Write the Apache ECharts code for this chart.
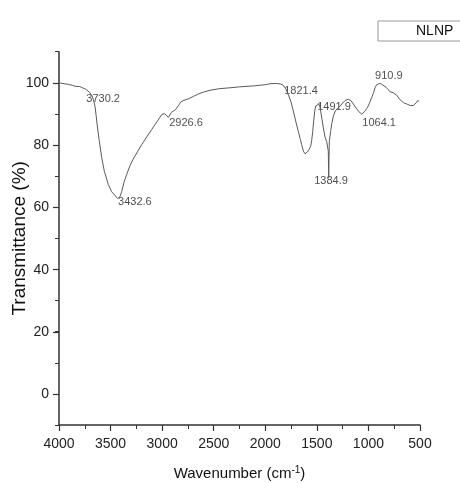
<!DOCTYPE html>
<html>
<head>
<meta charset="utf-8">
<script src="https://cdn.jsdelivr.net/npm/echarts@6/dist/echarts.min.js"></script>
<style>
html,body{margin:0;padding:0;background:#fff;}
#chart{width:460px;height:483px;}
</style>
</head>
<body>
<div id="chart"></div>
<script>
// ---- data ----
const wavenumbers = [4000,3950,3910,3870,3845,3800,3780,3750,3730,3700,3680,3667,3651,3640,3630,3610,3586,3560,3522,3490,3457,3432,3410,3392,3370,3344,3310,3280,3240,3198,3150,3101,3050,3004,2980,2960,2940,2926,2910,2892,2870,2843,2820,2795,2750,2698,2650,2600,2536,2450,2342,2250,2116,2000,1954,1889,1850,1825,1800,1777,1750,1728,1700,1680,1660,1647,1630,1615,1600,1590,1575,1560,1550,1540,1530,1520,1510,1495,1480,1470,1463,1450,1437,1420,1405,1395,1389,1385,1382,1379,1366,1355,1340,1320,1300,1276,1250,1227,1195,1170,1162,1130,1098,1080,1065,1050,1033,1015,1001,985,969,950,936,920,910,890,870,856,830,807,790,775,760,742,725,710,695,678,660,645,629,610,595,580,565,548,535,522,515,510,505];
const transmittance = [100,99.7,99.5,99.2,98.9,98.8,98.5,98.1,97.7,96.8,95.8,94.6,92.5,89.5,86.5,81.5,76,71.5,67.3,65,63.8,62.8,63.3,65,68,70.5,73.5,75.5,77.8,80.1,82.6,85,87.5,89.8,90.1,89.6,88.9,88.7,90.5,91,91.4,92.6,93.8,94.3,94.8,95.6,96.4,97,97.6,98.1,98.4,98.7,99,99.4,99.7,99.8,99.6,99.2,98,96.2,93.8,90.9,87,84.4,81.8,80.1,78,77.2,77.3,77.8,78.6,79.6,81.5,84.4,88,91,92.6,93.1,93.2,92.2,90.9,88.2,85.5,82.5,81.2,80.7,78,69.5,76,81.2,84.4,87,89.3,91,91.8,92.5,93.5,94.3,94.7,94.3,93.8,92.4,90.9,90.3,89.9,90.2,90.9,91.8,92.6,93.9,95.2,96.8,98.4,99.4,99.8,99.8,99.5,99.2,98.6,97.8,97.1,96.8,96.8,96.7,96,95.4,94.6,94.1,93.6,93.2,93.2,92.9,92.7,92.6,92.7,93.2,93.6,94.3,94.5,94.1,94.2];
const peakWavenumbers = [3730.2, 3432.6, 2926.6, 1821.4, 1491.9, 1384.9, 1064.1, 910.9];
const peakTransmittance = [97.7, 62.8, 88.7, 99.3, 93.0, 69.5, 89.9, 99.8];
const peakLabels = ['3730.2','3432.6','2926.6','1821.4','1491.9','1384.9','1064.1','910.9'];
const xTicks = [4000,3500,3000,2500,2000,1500,1000,500];
const yTicks = [0,20,40,60,80,100];
const seriesName = 'NLNP';

// ---- layout / style for annotations (pixel offsets of labels) ----
const labelOffsets = [[0,10],[1,4],[0,6],[1,6],[0,3],[-14,4],[1,9],[-2,-7]];

const sans = "'Liberation Sans',Arial,sans-serif";

const chart = echarts.init(document.getElementById('chart'), null, {renderer:'canvas'});

const lineData = wavenumbers.map((w,i)=>[w, transmittance[i]]);
const peakData = peakWavenumbers.map((w,i)=>({
  value:[w, peakTransmittance[i]],
  label:{position:[labelOffsets[i][0], labelOffsets[i][1]], formatter: peakLabels[i]}
}));

const option = {
  animation:false,
  backgroundColor:'#fff',
  legend:{
    data:[{name:seriesName, icon:'rect', itemStyle:{color:'rgba(0,0,0,0)', borderWidth:0}}],
    left:378, top:21,
    itemWidth:31, itemHeight:12, itemGap:5,
    padding:[3,14,3,2],
    borderColor:'#999', borderWidth:1,
    textStyle:{fontFamily:sans, fontSize:14, color:'#111'},
    selectedMode:false
  },
  grid:[
    {left:59, right:40, top:51.7, bottom:58, containLabel:false, outerBoundsMode:'none'},
    {left:59, right:40, top:83.3, bottom:89, containLabel:false, outerBoundsMode:'none'}
  ],
  xAxis:[
    {
      type:'value', gridIndex:0, min:500, max:4000, interval:500, inverse:true,
      name:'Wavenumber (cm{sup|-1})', nameLocation:'middle', nameGap:40,
      nameTextStyle:{fontFamily:sans, fontSize:15, color:'#111',
        rich:{sup:{fontFamily:sans, fontSize:10, verticalAlign:'top', padding:[0,0,8,0], color:'#111'}}},
      axisLine:{show:true, onZero:false, lineStyle:{color:'#333', width:1.5}},
      axisTick:{show:true, inside:false, length:6, lineStyle:{color:'#333', width:1.2}},
      minorTick:{show:true, splitNumber:2, length:4, lineStyle:{color:'#333', width:1}},
      axisLabel:{fontFamily:sans, fontSize:14, color:'#222', margin:12,
        formatter:v=> xTicks.includes(v) ? String(v) : ''},
      splitLine:{show:false}
    },
    {
      type:'value', gridIndex:1, min:500, max:4000, inverse:true, show:false
    }
  ],
  yAxis:[
    {
      type:'value', gridIndex:0, min:-10, max:110, interval:10,
      name:'Transmittance (%)', nameLocation:'middle', nameGap:30,
      nameTextStyle:{fontFamily:sans, fontSize:19, color:'#111'},
      axisLine:{show:true, onZero:false, lineStyle:{color:'#333', width:1.5}},
      axisTick:{show:true, inside:false, length:4, lineStyle:{color:'#333', width:1}},
      axisLabel:{show:false},
      splitLine:{show:false}
    },
    {
      type:'value', gridIndex:1, min:0, max:100, interval:20,
      axisLine:{show:false},
      axisTick:{show:true, inside:false, length:6, lineStyle:{color:'#333', width:1.2}},
      axisLabel:{fontFamily:sans, fontSize:14, color:'#222', margin:10,
        formatter:v=> yTicks.includes(v) ? String(v) : ''},
      splitLine:{show:false}
    }
  ],
  series:[
    {
      name:seriesName, type:'line', xAxisIndex:0, yAxisIndex:0,
      data:lineData, showSymbol:false, symbol:'none',
      lineStyle:{color:'#5a5a5a', width:1}, itemStyle:{color:'#5a5a5a'}
    },
    {
      name:'peaks', type:'scatter', xAxisIndex:0, yAxisIndex:0,
      data:peakData, symbolSize:1, itemStyle:{color:'rgba(0,0,0,0)'},
      label:{show:true, align:'left', verticalAlign:'middle',
        fontFamily:sans, fontSize:11, color:'#222'},
      silent:true
    }
  ]
};
chart.setOption(option);
</script>
</body>
</html>
